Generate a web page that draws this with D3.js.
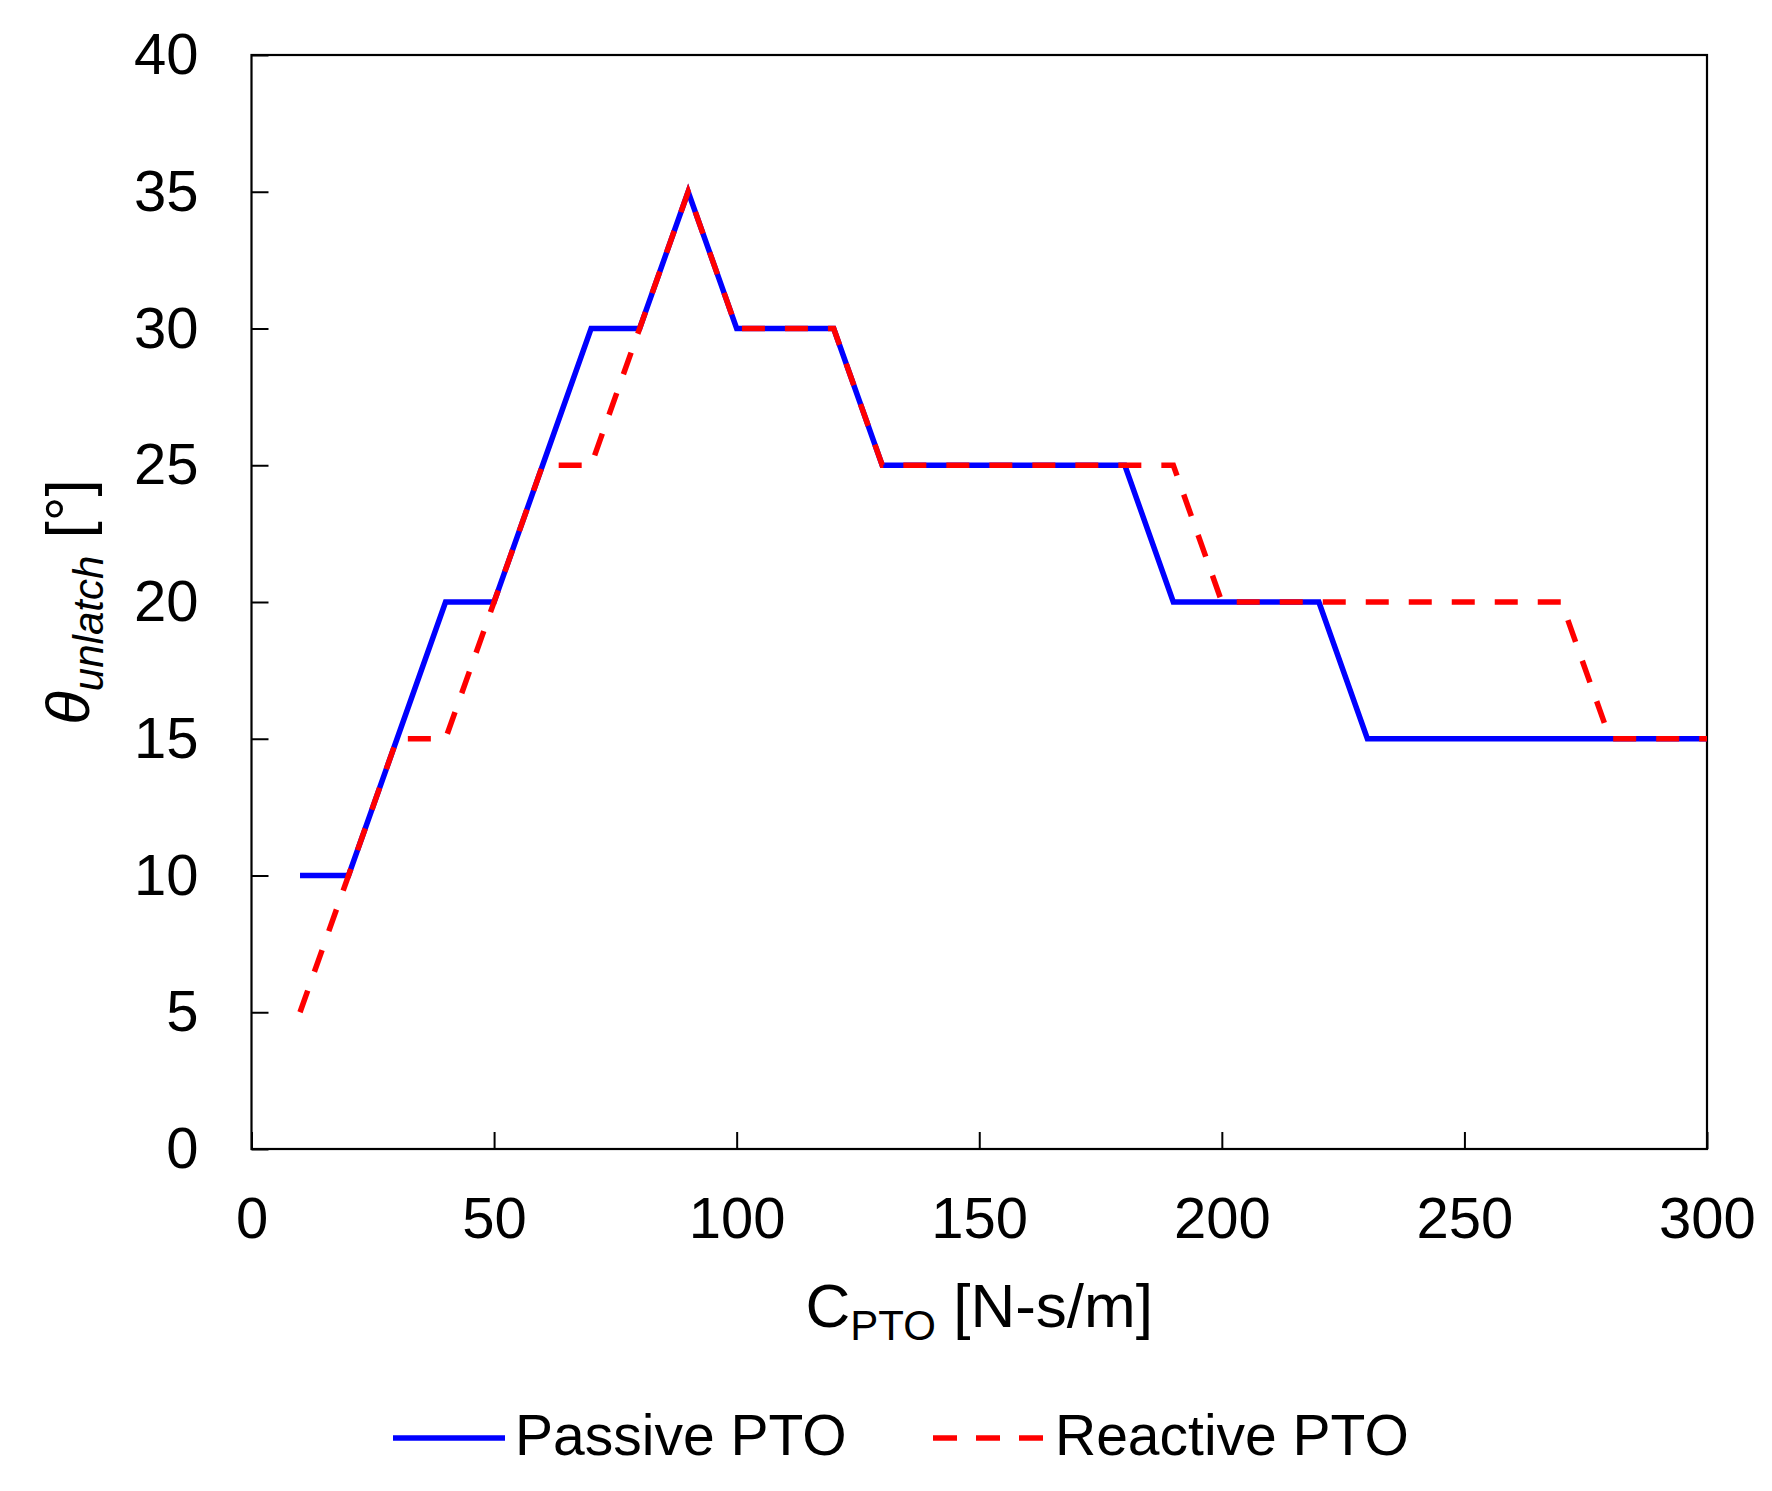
<!DOCTYPE html>
<html>
<head>
<meta charset="utf-8">
<script src="https://cdn.jsdelivr.net/npm/d3@7"></script>
<style>
  html, body { margin: 0; padding: 0; background: #fff; }
  svg { display: block; font-family: "Liberation Sans", Arial, sans-serif; }
</style>
</head>
<body>
<svg id="chart" width="1772" height="1491"></svg>
<script>
// ---- data ----
const cpto = [10,20,30,40,50,60,70,80,90,100,110,120,130,140,150,160,170,180,190,200,210,220,230,240,250,260,270,280,290,300];
const passive = [10,10,15,20,20,25,30,30,35,30,30,30,25,25,25,25,25,25,20,20,20,20,15,15,15,15,15,15,15,15];
const reactive = [5,10,15,15,20,25,25,30,35,30,30,30,25,25,25,25,25,25,25,20,20,20,20,20,20,20,20,15,15,15];
const xTicks = [0,50,100,150,200,250,300];
const yTicks = [0,5,10,15,20,25,30,35,40];
const seriesNames = ["Passive PTO", "Reactive PTO"];

// ---- layout ----
const L = 251.5, R = 1707, T = 55, B = 1149;
const svg = d3.select("#chart");
const x = d3.scaleLinear().domain([0,300]).range([L,R]);
const y = d3.scaleLinear().domain([0,40]).range([B,T]);

// axes
const yAxis = d3.axisLeft(y).tickValues(yTicks).tickSize(-17).tickPadding(53).tickFormat(d3.format("d"));
const gy = svg.append("g").attr("transform", `translate(${L},0)`).call(yAxis);
const xAxis = d3.axisBottom(x).tickValues(xTicks).tickSize(-17).tickPadding(48).tickFormat(d3.format("d"));
const gx = svg.append("g").attr("transform", `translate(0,${B})`).call(xAxis);
[gx, gy].forEach(g => {
  g.select(".domain").remove();
  g.selectAll(".tick line").attr("stroke", "#000").attr("stroke-width", 2);
  g.selectAll(".tick text").attr("fill", "#000").style("font-size", "58px")
    .style("font-family", "'Liberation Sans', Arial, sans-serif");
});

// frame
svg.append("rect").attr("x", L).attr("y", T).attr("width", R - L).attr("height", B - T)
  .attr("fill", "none").attr("stroke", "#000").attr("stroke-width", 2.2);

// lines
const line = d3.line().x((d,i) => x(cpto[i])).y(d => y(d));
svg.append("path").datum(passive).attr("d", line)
  .attr("fill", "none").attr("stroke", "#0000FF").attr("stroke-width", 5.5).attr("stroke-linejoin", "miter");
svg.append("path").datum(reactive).attr("d", line)
  .attr("fill", "none").attr("stroke", "#FF0000").attr("stroke-width", 5.5)
  .attr("stroke-dasharray", "23,20");

// x title
const xt = svg.append("text").attr("x", (L + R) / 2).attr("y", 1327)
  .attr("text-anchor", "middle").attr("fill", "#000").style("font-size", "62px");
xt.append("tspan").text("C");
xt.append("tspan").attr("dy", 13).style("font-size", "42px").text("PTO");
xt.append("tspan").attr("dy", -13).text(" [N-s/m]");

// y title
const yt = svg.append("text").attr("transform", `translate(89,${(T + B) / 2}) rotate(-90)`)
  .attr("text-anchor", "middle").attr("fill", "#000").style("font-size", "62px");
yt.append("tspan").style("font-style", "italic").text("θ");
yt.append("tspan").attr("dy", 14).style("font-style", "italic").style("font-size", "42px").text("unlatch");
yt.append("tspan").attr("dy", -14).text(" [°]");

// legend
const leg = [
  {name: seriesNames[0], color: "#0000FF", dash: null, x1: 393, x2: 505, tx: 515},
  {name: seriesNames[1], color: "#FF0000", dash: "24,19", x1: 933, x2: 1043, tx: 1055}
];
leg.forEach(d => {
  svg.append("line").attr("x1", d.x1).attr("x2", d.x2).attr("y1", 1438).attr("y2", 1438)
    .attr("stroke", d.color).attr("stroke-width", 5.5).attr("stroke-dasharray", d.dash);
  svg.append("text").attr("x", d.tx).attr("y", 1455).attr("fill", "#000")
    .style("font-size", "57px").text(d.name);
});
</script>
</body>
</html>
